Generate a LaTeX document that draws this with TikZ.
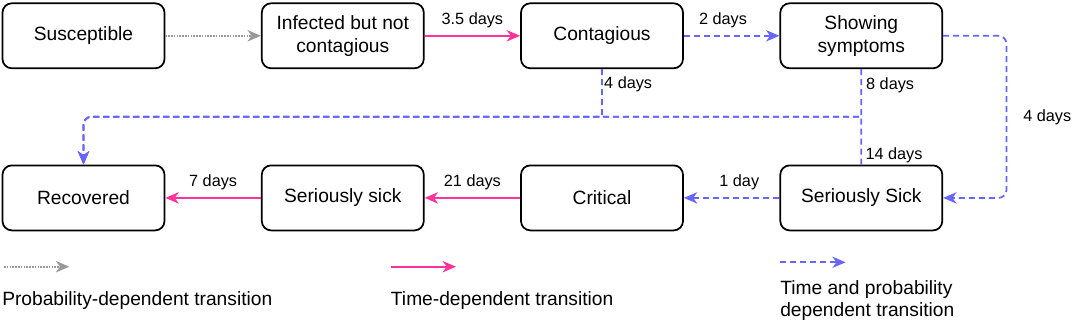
\documentclass[tikz,border=0pt]{standalone}
\usepackage{fontspec}
\setmainfont{Liberation Sans}
\usetikzlibrary{arrows.meta}
\definecolor{ink}{HTML}{000000}
\definecolor{timepink}{HTML}{FF3399}
\definecolor{bothblue}{HTML}{6666FF}
\definecolor{probgrey}{HTML}{999999}
\tikzset{
  state/.style={draw=ink,fill=white,rounded corners=7pt,line width=1.3pt,
    minimum width=121.5pt,minimum height=48.75pt,inner sep=2pt,align=center,
    font=\fontsize{14.4}{17}\selectfont},
  tip/.style={-{Stealth[length=10pt,width=8.5pt,inset=3pt]}},
  probflow/.style={tip,draw=probgrey,line width=1.4pt,dash pattern=on 1.2pt off 0.9pt},
  timeflow/.style={tip,draw=timepink,line width=1.4pt},
  bothflow/.style={tip,draw=bothblue,line width=1.3pt,dash pattern=on 4.5pt off 3pt},
  daylbl/.style={font=\fontsize{12.2}{14}\selectfont,inner sep=1pt},
  keytext/.style={anchor=west,inner sep=0pt,align=left,font=\fontsize{14.4}{16.3}\selectfont}
}

\begin{document}
\begin{tikzpicture}[x=.75pt,y=-.75pt]
  \useasboundingbox (0,0) rectangle (1072,324);

  % Upper row of states.
  \node[state] (sus) at (83.5,35.8) {Susceptible};
  \node[state] (inf) at (342.8,35.8) {Infected but not\\contagious};
  \node[state] (cont) at (602,35.8) {Contagious};
  \node[state] (show) at (861.3,35.8) {Showing\\symptoms};

  % Lower row of states.
  \node[state] (rec) at (83.5,197.9) {Recovered};
  \node[state] (sick) at (342.8,197.9) {Seriously sick};
  \node[state] (crit) at (602,197.9) {Critical};
  \node[state] (ssick) at (861.3,197.9) {Seriously Sick};

  % Transitions along the upper row.
  \draw[probflow] (sus) -- (inf);
  \draw[timeflow] (inf) -- node[daylbl,above=4pt]{3.5 days} (cont);
  \draw[bothflow] (cont) -- node[daylbl,above=4pt,pos=.41]{2 days} (show);
  \draw[bothflow,rounded corners=6pt] (show.east) -- ++(63.3,0)
    |- node[daylbl,pos=.25,right=11pt]{4 days} (ssick.east);

  % Shared line back to recovery.
  \coordinate (bend) at (83.5,116.7);
  \draw[bothflow] (cont.south) -- node[daylbl,anchor=west,pos=.31]{4 days}
    (cont.south |- bend) [rounded corners=6pt] -- (bend) -- (rec.north);
  \draw[bothflow] (show.south) -- node[daylbl,anchor=west,pos=.345,xshift=2pt]{8 days}
    (show.south |- bend) [rounded corners=6pt] -- (bend) -- (rec.north);
  \draw[bothflow] (ssick.north) -- node[daylbl,anchor=west,pos=.19,xshift=1.5pt]{14 days}
    (ssick.north |- bend) [rounded corners=6pt] -- (bend) -- (rec.north);

  % Transitions along the lower row.
  \draw[bothflow] (ssick) -- node[daylbl,above=4pt,pos=.42]{1 day} (crit);
  \draw[timeflow] (crit) -- node[daylbl,above=4pt]{21 days} (sick);
  \draw[timeflow] (sick) -- node[daylbl,above=4pt]{7 days} (rec);

  % Key.
  \node[keytext] (probkey) at (2,301) {Probability-dependent transition};
  \node[keytext] (timekey) at (390.7,301) {Time-dependent transition};
  \node[keytext] (bothkey) at (780,300.8) {Time and probability\\dependent transition};
  \coordinate (probtail) at (4,266.7);
  \coordinate (probhead) at (69.3,266.7);
  \coordinate (timetail) at (391,266.7);
  \coordinate (timehead) at (456,266.7);
  \coordinate (bothtail) at (780,262.3);
  \coordinate (bothhead) at (845.7,262.3);
  \draw[probflow] (probtail) -- (probhead);
  \draw[timeflow] (timetail) -- (timehead);
  \draw[bothflow] (bothtail) -- (bothhead);
\end{tikzpicture}
\end{document}
